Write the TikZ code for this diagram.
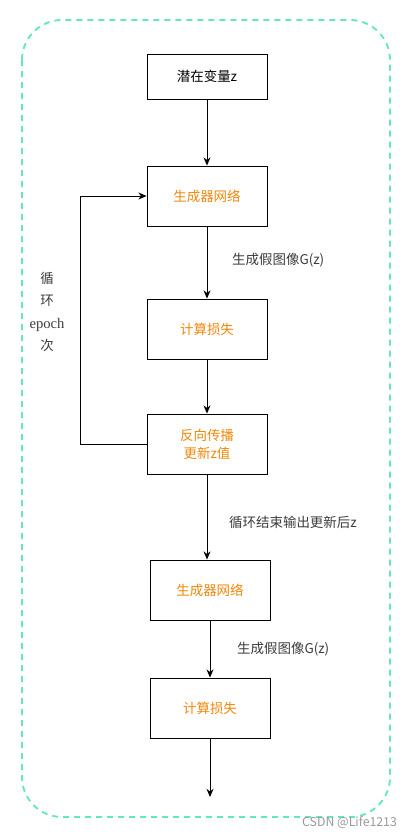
\documentclass[tikz,border=0pt]{standalone}
\usepackage{fontspec}
\setmainfont{Noto Sans CJK SC}
\newfontfamily\epfont{Liberation Serif}
\usepackage{xcolor}
\usetikzlibrary{positioning,arrows.meta}
\definecolor{myorange}{RGB}{240,135,10}
\definecolor{mymint}{RGB}{100,232,185}
\definecolor{mygray}{RGB}{60,60,60}

\begin{document}
\begin{tikzpicture}[x=0.03cm, y=-0.03cm,
        box/.style={rectangle, draw=black, line width=0.8pt, minimum width=3.6cm,
                    minimum height=1.8cm, inner sep=0pt, align=center,
                    font=\fontsize{11.5}{15.3}\selectfont, text=myorange},
        lbl/.style={font=\fontsize{11.5}{14}\selectfont, text=mygray, anchor=west},
        arr/.style={-{Stealth[length=7pt,width=6pt]}, line width=0.8pt}
      ]
        \useasboundingbox (0,0) rectangle (411,838);
        % outer dashed frame
        \draw[mymint, line width=1.6pt, dash pattern=on 0.18cm off 0.15cm,
              rounded corners=1.2cm] (22,20) rectangle (390,817);

        \node[box, minimum height=1.35cm, text=black] (latent) at (207,76.5) {潜在变量z};
        \node[box] (gen1)  at (207,196) {生成器网络};
        \node[box] (loss1) at (207,329) {计算损失};
        \node[box] (back)  at (207,444) {反向传播\\更新z值};
        \node[box] (gen2)  at (210,590) {生成器网络};
        \node[box] (loss2) at (210,708) {计算损失};
        \coordinate (out) at (210,797);
        \coordinate (loopl) at (80,444);

        \draw[arr] (latent) -- (gen1);
        \draw[arr] (gen1) -- (loss1);
        \draw[arr] (loss1) -- (back);
        \draw[arr] (back.south) -- (back.south |- gen2.north);
        \draw[arr] (gen2) -- (loss2);
        \draw[arr] (loss2) -- (out);
        \draw[arr] (back.west) -- (loopl) |- (gen1.west);

        \node[lbl] (fake1) at (228,260) {生成假图像G(z)};
        \node[lbl] (endtxt) at (225,522) {循环结束输出更新后z};
        \node[lbl] (fake2) at (233,649) {生成假图像G(z)};
        \node[font=\fontsize{11.5}{19}\selectfont, text=mygray, align=center] (looptxt)
              at (47,312) {循\\环\\{\fontsize{12.5}{19}\epfont epoch}\\次};
        \node[font=\fontsize{10.5}{12}\selectfont, text=black!40, anchor=east] (mark)
              at (401,823) {CSDN @Life1213};
      \end{tikzpicture}
\end{document}
